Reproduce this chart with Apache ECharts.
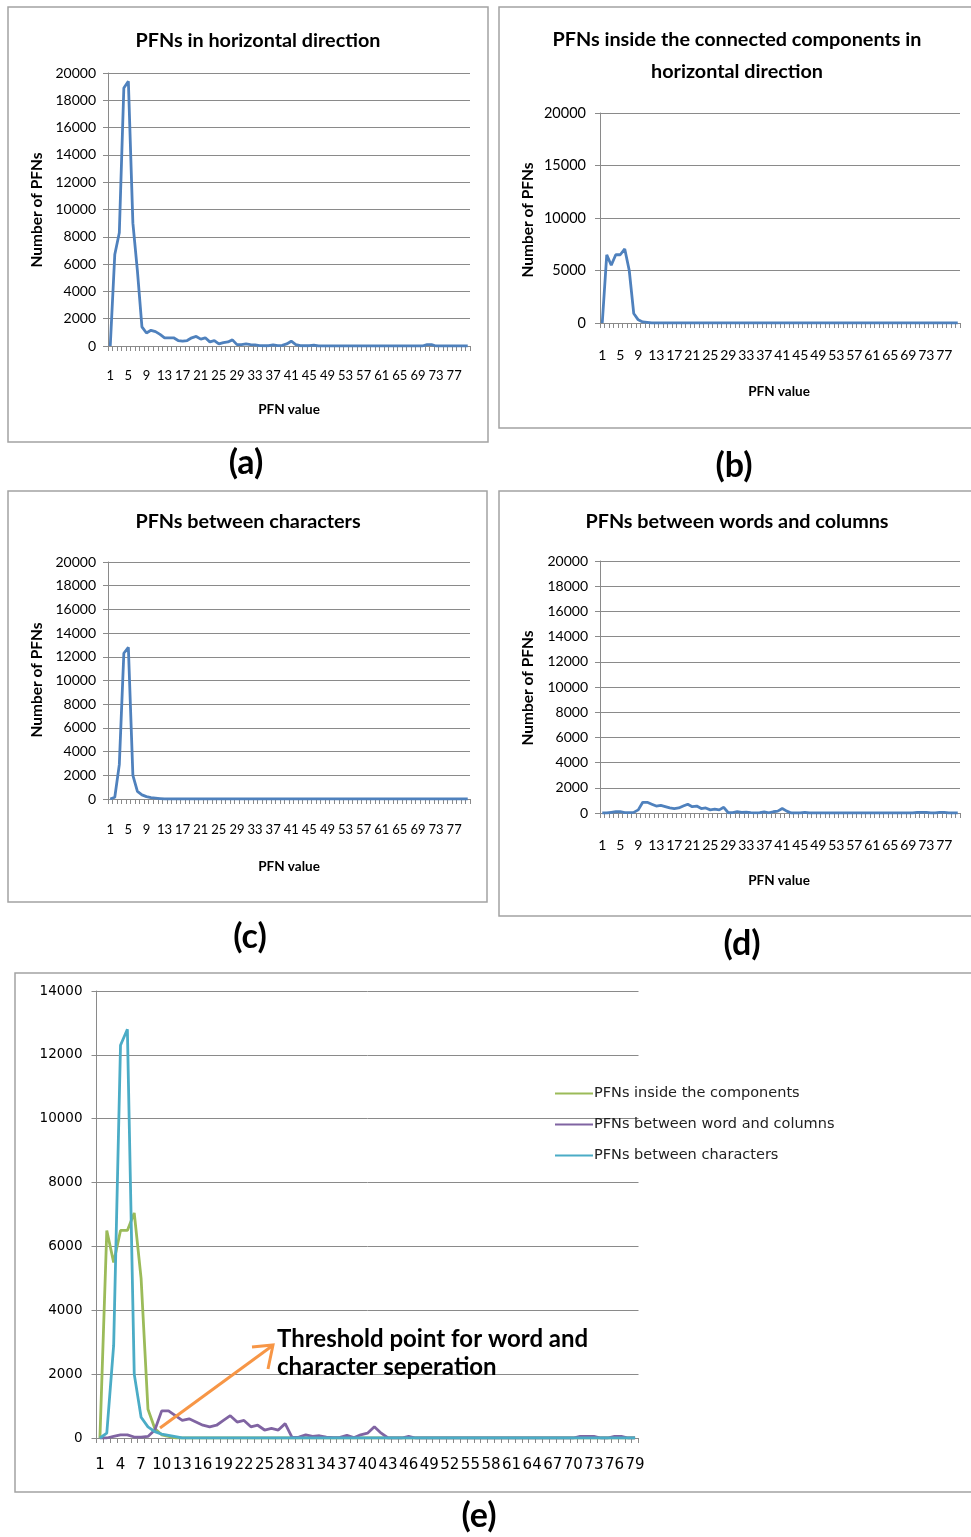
<!DOCTYPE html>
<html>
<head>
<meta charset="utf-8">
<script src="https://cdn.jsdelivr.net/npm/echarts@6/dist/echarts.min.js"></script>
<style>
  html, body { margin: 0; padding: 0; background: #ffffff; }
  #chart { width: 971px; height: 1537px; }
</style>
</head>
<body>
<div id="chart"></div>
<script>
// ---------- DATA ----------
const categories = ['1','2','3','4','5','6','7','8','9','10','11','12','13','14','15','16','17','18','19','20',
  '21','22','23','24','25','26','27','28','29','30','31','32','33','34','35','36','37','38','39','40',
  '41','42','43','44','45','46','47','48','49','50','51','52','53','54','55','56','57','58','59','60',
  '61','62','63','64','65','66','67','68','69','70','71','72','73','74','75','76','77','78','79','80'];
// panel (e) only spans PFN values 1..79
const categoriesE = categories.slice(0, 79);

// (a) PFNs in horizontal direction
const horizontalPFN = [0,6700,8300,18900,19400,9000,5500,1400,950,1150,
  1050,850,600,600,600,400,350,400,600,700,
  500,600,300,400,150,250,300,450,100,100,
  150,100,80,30,20,20,80,20,50,150,
  350,100,20,20,20,60,0,0,0,0,
  0,0,0,0,0,0,0,0,0,0,
  0,0,0,0,0,0,0,0,0,0,
  100,100,0,0,0,0,0,0,0,0];

// (b) PFNs inside the connected components
const componentPFN = [0,6500,5500,6500,6500,7050,5000,900,300,100,
  50,0,0,0,0,0,0,0,0,0,
  0,0,0,0,0,0,0,0,0,0,
  0,0,0,0,0,0,0,0,0,0,
  0,0,0,0,0,0,0,0,0,0,
  0,0,0,0,0,0,0,0,0,0,
  0,0,0,0,0,0,0,0,0,0,
  0,0,0,0,0,0,0,0,0,0];

// (c) PFNs between characters
const characterPFN = [0,150,2900,12300,12800,2000,650,350,200,120,
  80,40,0,0,0,0,0,0,0,0,
  0,0,0,0,0,0,0,0,0,0,
  0,0,0,0,0,0,0,0,0,0,
  0,0,0,0,0,0,0,0,0,0,
  0,0,0,0,0,0,0,0,0,0,
  0,0,0,0,0,0,0,0,0,0,
  0,0,0,0,0,0,0,0,0,0];

// (d) PFNs between words and columns
const wordColumnPFN = [0,0,50,100,100,30,30,50,250,850,
  850,700,550,600,500,400,350,400,550,700,
  500,550,350,400,250,300,250,450,20,30,
  100,50,70,30,10,20,80,10,100,150,
  350,150,0,0,0,50,0,0,0,0,
  0,0,0,0,0,0,0,0,0,0,
  0,0,0,0,0,0,0,0,0,0,
  50,50,50,0,0,50,50,0,0,0];

const legendNames = ['PFNs inside the components', 'PFNs between word and columns', 'PFNs between characters'];

// ---------- STYLE ----------
const GRID_COLOR = '#8a8a8a';
const BLUE = '#4F81BD';
const GREEN = '#9BBB59';
const PURPLE = '#8064A2';
const CYAN = '#4BACC6';
const ORANGE = '#F79646';
const F_SMALL = 'Lato, "Open Sans", sans-serif';
const F_E = '"DejaVu Sans", Verdana, sans-serif';

const grids = [
  { left: 108, top: 73,  width: 362, height: 273 },   // a
  { left: 600, top: 113, width: 360, height: 210 },   // b
  { left: 108, top: 562, width: 362, height: 237 },   // c
  { left: 600, top: 561, width: 360, height: 252 },   // d
  { left: 96.5, top: 991, width: 542, height: 447 }   // e
];

function xAxisFor(i, cats, labelInterval, margin, font, size) {
  return {
    type: 'category', gridIndex: i, data: cats, boundaryGap: true,
    axisLine: { lineStyle: { color: GRID_COLOR, width: 1 } },
    axisTick: { show: true, interval: 0, length: 5, lineStyle: { color: GRID_COLOR } },
    axisLabel: { interval: labelInterval, margin: margin, color: '#000', fontFamily: font, fontSize: size, hideOverlap: false },
    splitLine: { show: false }
  };
}
function yAxisFor(i, max, interval, font, size, margin) {
  return {
    type: 'value', gridIndex: i, min: 0, max: max, interval: interval,
    axisLine: { show: true, lineStyle: { color: GRID_COLOR, width: 1 } },
    axisTick: { show: true, length: 5, lineStyle: { color: GRID_COLOR } },
    axisLabel: { margin: margin, color: '#000', fontFamily: font, fontSize: size,
      formatter: function (v) { return String(v); } },
    splitLine: { show: true, lineStyle: { color: GRID_COLOR, width: 1 } }
  };
}

const xAxes = [
  xAxisFor(0, categories, 3, 23, F_SMALL, 13),
  xAxisFor(1, categories, 3, 25, F_SMALL, 14),
  xAxisFor(2, categories, 3, 24, F_SMALL, 13),
  xAxisFor(3, categories, 3, 25, F_SMALL, 14),
  xAxisFor(4, categoriesE, 2, 20, F_E, 15)
];
const yAxes = [
  yAxisFor(0, 20000, 2000, F_SMALL, 14, 12),
  yAxisFor(1, 20000, 5000, F_SMALL, 14.5, 14),
  yAxisFor(2, 20000, 2000, F_SMALL, 14, 12),
  yAxisFor(3, 20000, 2000, F_SMALL, 14, 12),
  yAxisFor(4, 14000, 2000, F_E, 13.5, 14)
];

function lineSeries(name, data, idx, color) {
  return {
    name: name, type: 'line', data: data, xAxisIndex: idx, yAxisIndex: idx,
    symbol: 'none', smooth: false, animation: false,
    lineStyle: { color: color, width: 2.8 }, itemStyle: { color: color }
  };
}

const series = [
  lineSeries('horizontal', horizontalPFN, 0, BLUE),
  lineSeries('components', componentPFN, 1, BLUE),
  lineSeries('characters', characterPFN, 2, BLUE),
  lineSeries('words', wordColumnPFN, 3, BLUE),
  lineSeries(legendNames[0], componentPFN.slice(0, 79), 4, GREEN),
  lineSeries(legendNames[1], wordColumnPFN.slice(0, 79), 4, PURPLE),
  lineSeries(legendNames[2], characterPFN.slice(0, 79), 4, CYAN)
];

function txt(text, x, y, size, opts) {
  opts = opts || {};
  return {
    type: 'text', x: x, y: y, rotation: opts.rotation || 0, z: 50,
    style: {
      text: text, fill: '#000', fontFamily: opts.font || F_SMALL,
      fontSize: size, fontWeight: opts.weight || 'bold',
      textAlign: opts.align || 'center', textVerticalAlign: 'middle'
    }
  };
}
function box(x, y, w, h) {
  return { type: 'rect', shape: { x: x, y: y, width: w, height: h }, z: -10,
    style: { fill: 'none', stroke: '#a3a3a3', lineWidth: 1.5 } };
}

const graphics = [
  box(8, 7, 480, 435), box(499, 7, 480, 421), box(8, 491, 479, 411), box(499, 491, 480, 425), box(15, 973, 970, 519),
  // titles
  txt('PFNs in horizontal direction', 258, 41, 19.8),
  txt('PFNs inside the connected components in', 737, 40, 19.8),
  txt('horizontal direction', 737, 72, 19.8),
  txt('PFNs between characters', 248, 522, 19.8),
  txt('PFNs between words and columns', 737, 522, 19.8),
  // axis names
  txt('Number of PFNs', 37, 210, 15.5, { rotation: Math.PI / 2 }),
  txt('Number of PFNs', 528, 220, 15.5, { rotation: Math.PI / 2 }),
  txt('Number of PFNs', 37, 680, 15.5, { rotation: Math.PI / 2 }),
  txt('Number of PFNs', 528, 688, 15.5, { rotation: Math.PI / 2 }),
  txt('PFN value', 289, 410, 13.5),
  txt('PFN value', 779, 392, 13.5),
  txt('PFN value', 289, 867, 13.5),
  txt('PFN value', 779, 881, 13.5),
  // panel labels
  txt('(a)', 246, 463, 34),
  txt('(b)', 734, 466, 34),
  txt('(c)', 250, 937, 34),
  txt('(d)', 742, 944, 34),
  txt('(e)', 479, 1516, 34),
  // annotation
  txt('Threshold point for word and', 277, 1339, 24, { align: 'left' }),
  txt('character seperation', 277, 1367, 24, { align: 'left' }),
  { type: 'line', z: 60, shape: { x1: 160, y1: 1428, x2: 272, y2: 1346 },
    style: { stroke: ORANGE, lineWidth: 3 } },
  { type: 'polyline', z: 60, shape: { points: [[252, 1347], [273, 1345], [268, 1369]] },
    style: { stroke: ORANGE, lineWidth: 3, fill: 'none' } }
];

const chart = echarts.init(document.getElementById('chart'), null, { renderer: 'canvas' });
chart.setOption({
  animation: false,
  backgroundColor: '#ffffff',
  grid: grids,
  xAxis: xAxes,
  yAxis: yAxes,
  series: series,
  legend: {
    data: legendNames, orient: 'vertical', left: 550, top: 1081,
    icon: 'rect', itemWidth: 38, itemHeight: 2, itemGap: 16,
    textStyle: { fontFamily: F_E, fontSize: 14.5, color: '#222', padding: [0, 0, 0, -4] }
  },
  graphic: graphics
});
</script>
</body>
</html>
